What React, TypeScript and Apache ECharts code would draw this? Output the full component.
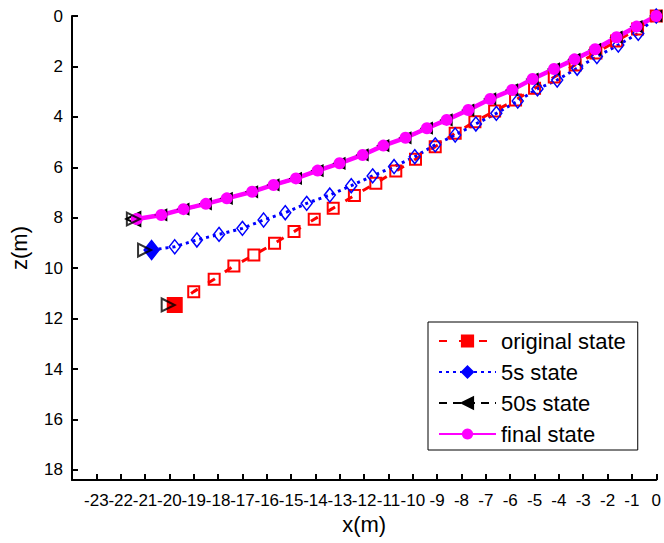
import React, { useEffect, useRef } from "react";
import * as echarts from "echarts";

// Cable node positions (x, z in metres), free end first, anchor (0,0) last
const origX = [-19.78, -19.0, -18.16, -17.35, -16.53, -15.68, -14.88, -14.05, -13.27, -12.4, -11.52, -10.7, -9.89, -9.08, -8.26, -7.45, -6.64, -5.78, -5.0, -4.19, -3.33, -2.48, -1.63, -0.77, 0];
const origZ = [11.46, 10.93, 10.44, 9.91, 9.48, 9.01, 8.55, 8.06, 7.62, 7.12, 6.63, 6.15, 5.68, 5.18, 4.65, 4.19, 3.77, 3.33, 2.87, 2.42, 1.94, 1.47, 0.99, 0.52, 0];

const s5X = [-20.73, -19.78, -18.87, -17.96, -17.0, -16.13, -15.24, -14.36, -13.41, -12.53, -11.65, -10.77, -9.92, -9.08, -8.26, -7.41, -6.57, -5.69, -4.88, -4.07, -3.25, -2.44, -1.56, -0.74, 0];
const s5Z = [9.28, 9.15, 8.88, 8.66, 8.42, 8.09, 7.8, 7.43, 7.1, 6.73, 6.34, 5.97, 5.58, 5.11, 4.72, 4.28, 3.86, 3.37, 2.89, 2.54, 2.07, 1.61, 1.15, 0.69, 0];

const s50X = [-21.48, -20.33, -19.42, -18.5, -17.64, -16.6, -15.72, -14.8, -13.91, -13.01, -12.06, -11.21, -10.3, -9.42, -8.61, -7.72, -6.82, -5.92, -5.08, -4.2, -3.36, -2.51, -1.63, -0.81, 0];
const s50Z = [8.05, 7.89, 7.66, 7.45, 7.23, 6.97, 6.7, 6.44, 6.13, 5.84, 5.51, 5.14, 4.83, 4.45, 4.12, 3.73, 3.29, 2.93, 2.5, 2.1, 1.72, 1.32, 0.84, 0.42, 0];

const finalX = [-21.34, -20.33, -19.42, -18.5, -17.64, -16.6, -15.72, -14.8, -13.91, -13.01, -12.06, -11.21, -10.3, -9.42, -8.61, -7.72, -6.82, -5.92, -5.08, -4.2, -3.36, -2.51, -1.63, -0.81, 0];
const finalZ = [8.05, 7.89, 7.66, 7.45, 7.23, 6.97, 6.7, 6.44, 6.13, 5.84, 5.51, 5.14, 4.83, 4.45, 4.12, 3.73, 3.29, 2.93, 2.5, 2.1, 1.72, 1.32, 0.84, 0.42, 0];

// free-end markers of each profile
const endX = [-20.05, -21.02, -21.48];
const endZ = [11.46, 9.28, 8.05];

const seriesNames = ["original state", "5s state", "50s state", "final state"];

const FONT = "'Liberation Sans', Arial, Helvetica, sans-serif";

const zip = (xs: number[], zs: number[]) => xs.map((x, i) => [x, zs[i]]);

export default function App() {
  const ref = useRef<HTMLDivElement>(null);

  useEffect(() => {
    document.body.style.margin = "0";
    if (!ref.current) return;
    const chart = echarts.init(ref.current, null, { renderer: "svg" });

    const origData: any[] = zip(origX, origZ).map((p, i) =>
      i === 0
        ? { value: p, symbolSize: 14, itemStyle: { color: "#ff0000" } }
        : p
    );
    const s5Data: any[] = zip(s5X, s5Z).map((p, i) =>
      i === 0
        ? { value: p, symbolSize: [15, 19], itemStyle: { color: "#0000ff" } }
        : p
    );
    const s50Data: any[] = zip(s50X, s50Z).map((p, i) =>
      i === 0 ? { value: p, symbolSize: 14 } : p
    );

    chart.setOption({
      animation: false,
      backgroundColor: "#ffffff",
      grid: { left: 70, right: 4, top: 16, bottom: 63, containLabel: false },
      xAxis: {
        type: "value",
        min: -24,
        max: 0,
        interval: 1,
        name: "x(m)",
        nameLocation: "middle",
        nameGap: 31,
        nameTextStyle: { fontFamily: FONT, fontSize: 22, color: "#000" },
        axisLine: { onZero: false, lineStyle: { color: "#000", width: 2 } },
        axisTick: { inside: true, length: 6, lineStyle: { color: "#000", width: 2 } },
        axisLabel: {
          interval: 0,
          margin: 12,
          fontFamily: FONT,
          fontSize: 17,
          color: "#000",
          formatter: (v: number) => (v <= -24 ? "" : String(v)),
        },
        splitLine: { show: false },
      },
      yAxis: {
        type: "value",
        inverse: true,
        min: 0,
        max: 18.4,
        interval: 2,
        name: "z(m)",
        nameLocation: "middle",
        nameGap: 42,
        nameTextStyle: { fontFamily: FONT, fontSize: 22, color: "#000" },
        axisLine: { onZero: false, lineStyle: { color: "#000", width: 2 } },
        axisTick: { inside: true, length: 6, lineStyle: { color: "#000", width: 2 } },
        axisLabel: {
          margin: 9,
          fontFamily: FONT,
          fontSize: 17,
          color: "#000",
          showMaxLabel: false,
          formatter: (v: number) => (v > 18 ? "" : String(v)),
        },
        splitLine: { show: false },
      },
      legend: {
        orient: "vertical",
        left: 428,
        top: 322,
        padding: [7, 12, 4, 10],
        itemWidth: 57,
        itemHeight: 14,
        itemGap: 7,
        borderColor: "#000",
        borderWidth: 1,
        backgroundColor: "#fff",
        textStyle: { fontFamily: FONT, fontSize: 22, color: "#000", lineHeight: 24 },
        data: [
          { name: seriesNames[0], itemStyle: { color: "#ff0000" } },
          { name: seriesNames[1], itemStyle: { color: "#0000ff" } },
          { name: seriesNames[2], itemStyle: { color: "#000" } },
          { name: seriesNames[3], itemStyle: { color: "#ff00ff" } },
        ],
      },
      series: [
        {
          name: seriesNames[0],
          type: "line",
          clip: false,
          data: origData,
          symbol: "rect",
          symbolSize: 11,
          lineStyle: { color: "#ff0000", width: 3, type: [8, 12] },
          itemStyle: { color: "rgba(255,255,255,0)", borderColor: "#ff0000", borderWidth: 2 },
        },
        {
          name: seriesNames[1],
          type: "line",
          clip: false,
          data: s5Data,
          symbol: "diamond",
          symbolSize: [11, 14],
          lineStyle: { color: "#0000ff", width: 3, type: [3, 4] },
          itemStyle: { color: "rgba(255,255,255,0)", borderColor: "#0000ff", borderWidth: 1.5 },
        },
        {
          name: seriesNames[2],
          type: "line",
          clip: false,
          data: s50Data,
          symbol: "triangle",
          symbolRotate: 90,
          symbolSize: 10,
          lineStyle: { color: "#000", width: 3, type: [8, 6] },
          itemStyle: { color: "rgba(255,255,255,0)", borderColor: "#000", borderWidth: 2 },
        },
        {
          name: seriesNames[3],
          type: "line",
          clip: false,
          data: zip(finalX, finalZ),
          symbol: "circle",
          symbolSize: 12,
          lineStyle: { color: "#ff00ff", width: 4.5, type: "solid" },
          itemStyle: { color: "#ff00ff" },
        },
        {
          name: "free end",
          type: "scatter",
          clip: false,
          data: zip(endX, endZ),
          symbol: "triangle",
          symbolRotate: -90,
          symbolSize: 13,
          itemStyle: { color: "rgba(255,255,255,0)", borderColor: "#000", borderWidth: 2 },
          z: 5,
        },
      ],
    });

    return () => chart.dispose();
  }, []);

  return <div ref={ref} style={{ width: 664, height: 543 }} />;
}
